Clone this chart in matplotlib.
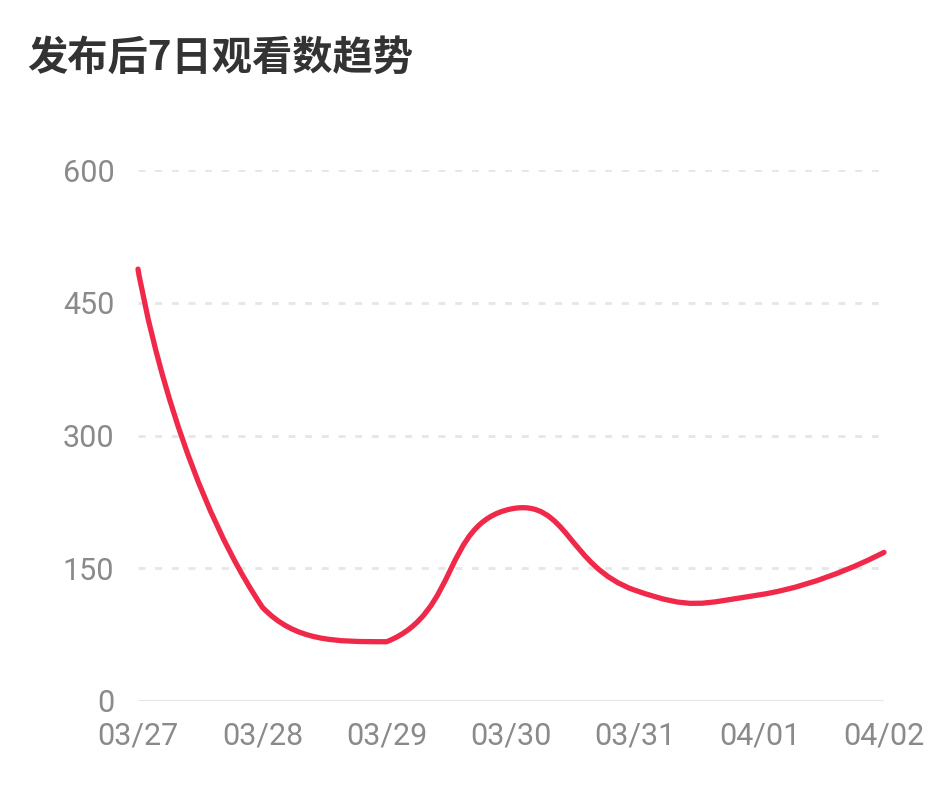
import numpy as np
import matplotlib
matplotlib.use("Agg")
import matplotlib.pyplot as plt
from matplotlib.path import Path
from matplotlib.patches import PathPatch

# data
days = ["03/27", "03/28", "03/29", "03/30", "03/31", "04/01", "04/02"]
views = [488, 106, 67, 217, 125, 120, 168]
yticks = [0, 150, 300, 450, 600]

line_color = "#f0294a"
label_color = "#8a8a8a"

plt.rcParams['font.family'] = ['Noto Sans CJK SC', 'DejaVu Sans']

fig = plt.figure(figsize=(9.45, 7.86), dpi=100)
ax = fig.add_axes([138 / 945, 85 / 786, 746 / 945, 531 / 786])

ax.set_xlim(0, len(days) - 1)
ax.set_ylim(0, 600)

# grid
for v in yticks[1:]:
    ax.axhline(v, color="#e6e6e6", lw=2, ls=(0, (2.5, 3.5)), zorder=1)
ax.axhline(0, color="#e6e6e6", lw=2.2, zorder=1)

# smooth line, bezier control points computed in pixel space (echarts-like)
x = np.arange(len(days))
pts = ax.transData.transform(np.column_stack([x, views]))
smooth = 0.5
lo = pts.min(axis=0)
hi = pts.max(axis=0)
verts = [pts[0]]
codes = [Path.MOVETO]
cp0 = pts[0].copy()
n = len(pts)
for i in range(1, n):
    p = pts[i]
    v = np.zeros(2)
    ratio = 0.5
    if i == n - 1:
        cp1 = p.copy()
    else:
        v = pts[i + 1] - pts[i - 1]
        d0 = np.hypot(*(p - pts[i - 1]))
        d1 = np.hypot(*(p - pts[i + 1]))
        ratio = d1 / (d0 + d1)
        cp1 = p - v * smooth * (1 - ratio)
    cp0 = np.clip(cp0, lo, hi)
    cp1 = np.clip(cp1, lo, hi)
    verts += [cp0, cp1, p]
    codes += [Path.CURVE4] * 3
    cp0 = p + v * smooth * ratio

verts = ax.transData.inverted().transform(np.array(verts))
patch = PathPatch(Path(verts, codes), fill=False, edgecolor=line_color, lw=3.8,
                  capstyle="round", joinstyle="round", zorder=3, clip_on=False)
ax.add_patch(patch)

ax.set_xticks(x)
ax.set_xticklabels(days)
ax.set_yticks(yticks)
ax.set_yticklabels([str(t) for t in yticks])
ax.tick_params(length=0, labelcolor=label_color, labelsize=22)
ax.tick_params(axis="y", pad=17)
ax.tick_params(axis="x", pad=15)
for lab in ax.get_xticklabels() + ax.get_yticklabels():
    lab.set_family(['Roboto', 'DejaVu Sans'])

for s in ax.spines.values():
    s.set_visible(False)

fig.text(27 / 945, 1 - 58 / 786, "发布后7日观看数趋势", fontsize=29, color="#333333",
         fontweight="bold", va="center", ha="left")

fig.savefig("out.png", dpi=100, facecolor="white")
